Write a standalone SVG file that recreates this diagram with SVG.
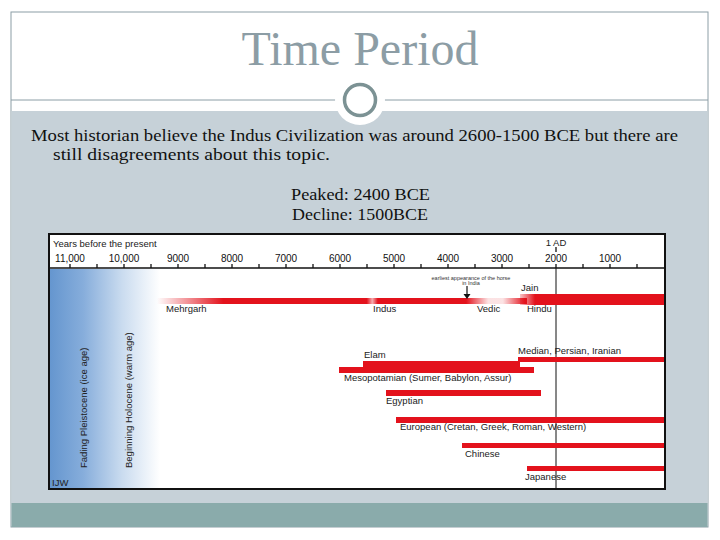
<svg xmlns="http://www.w3.org/2000/svg" width="720" height="540" viewBox="0 0 720 540">
<defs>
<style>
.title{font-family:"Liberation Serif",serif;font-size:48px;fill:#8c9da5}
.body{font-family:"Liberation Serif",serif;font-size:16.5px;fill:#111}
.lbl{font-family:"Liberation Sans",Arial,sans-serif;font-size:9.5px;fill:#222}
.yr{font-family:"Liberation Sans",Arial,sans-serif;font-size:10px;fill:#111}
.tiny{font-family:"Liberation Sans",Arial,sans-serif;font-size:5.5px;fill:#333}
.bar{fill:#e3121c}
.tick{stroke:#111;stroke-width:1.3}
</style>
<linearGradient id="ice" x1="50" y1="0" x2="160" y2="0" gradientUnits="userSpaceOnUse">
<stop offset="0" stop-color="#6596cf"/>
<stop offset="0.3" stop-color="#86addb"/>
<stop offset="0.65" stop-color="#c9dbef"/>
<stop offset="1" stop-color="#ffffff"/>
</linearGradient>
<linearGradient id="row1" x1="157" y1="0" x2="525" y2="0" gradientUnits="userSpaceOnUse">
<stop offset="0" stop-color="#e3121c" stop-opacity="0"/>
<stop offset="0.18" stop-color="#e3121c" stop-opacity="1"/>
<stop offset="0.57" stop-color="#e3121c" stop-opacity="1"/>
<stop offset="0.585" stop-color="#e3121c" stop-opacity="0.35"/>
<stop offset="0.6" stop-color="#e3121c" stop-opacity="1"/>
<stop offset="0.84" stop-color="#e3121c" stop-opacity="1"/>
<stop offset="0.9" stop-color="#e3121c" stop-opacity="0.12"/>
<stop offset="0.94" stop-color="#e3121c" stop-opacity="0.12"/>
<stop offset="1" stop-color="#e3121c" stop-opacity="1"/>
</linearGradient>
<linearGradient id="jain" x1="515" y1="0" x2="535" y2="0" gradientUnits="userSpaceOnUse">
<stop offset="0" stop-color="#e3121c" stop-opacity="0"/>
<stop offset="1" stop-color="#e3121c" stop-opacity="1"/>
</linearGradient>
</defs>

<g id="slide">
<rect x="11" y="12" width="697" height="515" fill="#ffffff" stroke="#8c9ea6" stroke-width="1"/>
<rect x="11.5" y="111" width="696" height="392" fill="#c6d1d8"/>
<rect x="11.5" y="503" width="696" height="24" fill="#8aabab"/>
<line x1="11" y1="100" x2="708" y2="100" stroke="#8c9ea6" stroke-width="1"/>
<circle cx="360" cy="100" r="25" fill="#ffffff"/>
<circle cx="360" cy="100" r="15.5" fill="#ffffff" stroke="#7c9294" stroke-width="3.5"/>
</g>

<g id="title"><text class="title" x="360" y="65" text-anchor="middle">Time Period</text></g>

<g id="body-text">
<text class="body" x="31" y="141" textLength="647" lengthAdjust="spacingAndGlyphs">Most historian believe the Indus Civilization was around 2600-1500 BCE but there are</text>
<text class="body" x="53" y="159.5" textLength="277" lengthAdjust="spacingAndGlyphs">still disagreements about this topic.</text>
<text class="body" x="291" y="200" textLength="139" lengthAdjust="spacingAndGlyphs">Peaked: 2400 BCE</text>
<text class="body" x="292" y="220" textLength="136" lengthAdjust="spacingAndGlyphs">Decline: 1500BCE</text>
</g>

<g id="chart">
<rect x="49" y="234" width="616" height="255" fill="#ffffff"/>
<rect x="50" y="269" width="110" height="219" fill="url(#ice)"/>
<text class="lbl" x="53" y="247">Years before the present</text>
<g id="years">
<text class="yr" x="70" y="262" text-anchor="middle">11,000</text>
<text class="yr" x="124" y="262" text-anchor="middle">10,000</text>
<text class="yr" x="178" y="262" text-anchor="middle">9000</text>
<text class="yr" x="232" y="262" text-anchor="middle">8000</text>
<text class="yr" x="286" y="262" text-anchor="middle">7000</text>
<text class="yr" x="340" y="262" text-anchor="middle">6000</text>
<text class="yr" x="394" y="262" text-anchor="middle">5000</text>
<text class="yr" x="448" y="262" text-anchor="middle">4000</text>
<text class="yr" x="502" y="262" text-anchor="middle">3000</text>
<text class="yr" x="556" y="262" text-anchor="middle">2000</text>
<text class="yr" x="610" y="262" text-anchor="middle">1000</text>
<text class="lbl" x="556" y="246" text-anchor="middle">1 AD</text>
</g>
<line x1="49" y1="268" x2="665" y2="268" stroke="#111" stroke-width="1.3"/>
<g id="ticks" class="tick">
<line x1="70" y1="264" x2="70" y2="268"/><line x1="97" y1="264" x2="97" y2="268"/>
<line x1="124" y1="264" x2="124" y2="268"/><line x1="151" y1="264" x2="151" y2="268"/>
<line x1="178" y1="264" x2="178" y2="268"/><line x1="205" y1="264" x2="205" y2="268"/>
<line x1="232" y1="264" x2="232" y2="268"/><line x1="259" y1="264" x2="259" y2="268"/>
<line x1="286" y1="264" x2="286" y2="268"/><line x1="313" y1="264" x2="313" y2="268"/>
<line x1="340" y1="264" x2="340" y2="268"/><line x1="367" y1="264" x2="367" y2="268"/>
<line x1="394" y1="264" x2="394" y2="268"/><line x1="421" y1="264" x2="421" y2="268"/>
<line x1="448" y1="264" x2="448" y2="268"/><line x1="475" y1="264" x2="475" y2="268"/>
<line x1="502" y1="264" x2="502" y2="268"/><line x1="529" y1="264" x2="529" y2="268"/>
<line x1="556" y1="264" x2="556" y2="268"/><line x1="583" y1="264" x2="583" y2="268"/>
<line x1="610" y1="264" x2="610" y2="268"/><line x1="637" y1="264" x2="637" y2="268"/>
<line x1="556" y1="247" x2="556" y2="252"/>
</g>
<line x1="556" y1="268" x2="556" y2="489" stroke="#111" stroke-width="1"/>

<text class="lbl" transform="translate(87,468) rotate(-90)">Fading Pleistocene (ice age)</text>
<text class="lbl" transform="translate(132,468) rotate(-90)">Beginning Holocene (warm age)</text>
<text class="lbl" x="52" y="486" fill="#1a2a5a">IJW</text>

<g id="row-indus">
<rect x="157" y="298" width="370" height="6" fill="url(#row1)"/>
<rect x="520" y="294" width="145" height="11" fill="url(#jain)"/>
<text class="tiny" x="471" y="280" text-anchor="middle">earliest appearance of the horse</text>
<text class="tiny" x="471" y="285" text-anchor="middle">in India</text>
<line x1="467" y1="286" x2="467" y2="295" stroke="#111" stroke-width="1.2"/>
<polygon points="463.5,294 470.5,294 467,299" fill="#111"/>
<text class="lbl" x="521" y="291">Jain</text>
<text class="lbl" x="166" y="312">Mehrgarh</text>
<text class="lbl" x="373" y="312">Indus</text>
<text class="lbl" x="477" y="312">Vedic</text>
<text class="lbl" x="527" y="312">Hindu</text>
</g>

<g id="row-median">
<rect class="bar" x="518" y="357" width="147" height="5"/>
<text class="lbl" x="518" y="354">Median, Persian, Iranian</text>
</g>
<g id="row-elam">
<rect class="bar" x="363" y="361" width="157" height="6"/>
<text class="lbl" x="364" y="358">Elam</text>
</g>
<g id="row-meso">
<rect class="bar" x="339" y="367" width="195" height="6"/>
<text class="lbl" x="344" y="381">Mesopotamian (Sumer, Babylon, Assur)</text>
</g>
<g id="row-egypt">
<rect class="bar" x="386" y="390" width="155" height="6"/>
<text class="lbl" x="386" y="404">Egyptian</text>
</g>
<g id="row-europe">
<rect class="bar" x="396" y="417" width="269" height="6"/>
<text class="lbl" x="400" y="430">European (Cretan, Greek, Roman, Western)</text>
</g>
<g id="row-china">
<rect class="bar" x="462" y="443" width="203" height="5"/>
<text class="lbl" x="465" y="457">Chinese</text>
</g>
<g id="row-japan">
<rect class="bar" x="527" y="466" width="138" height="5"/>
<text class="lbl" x="525" y="480">Japanese</text>
</g>
<rect x="49" y="234" width="616" height="255" fill="none" stroke="#111" stroke-width="2"/>
</g>
</svg>
